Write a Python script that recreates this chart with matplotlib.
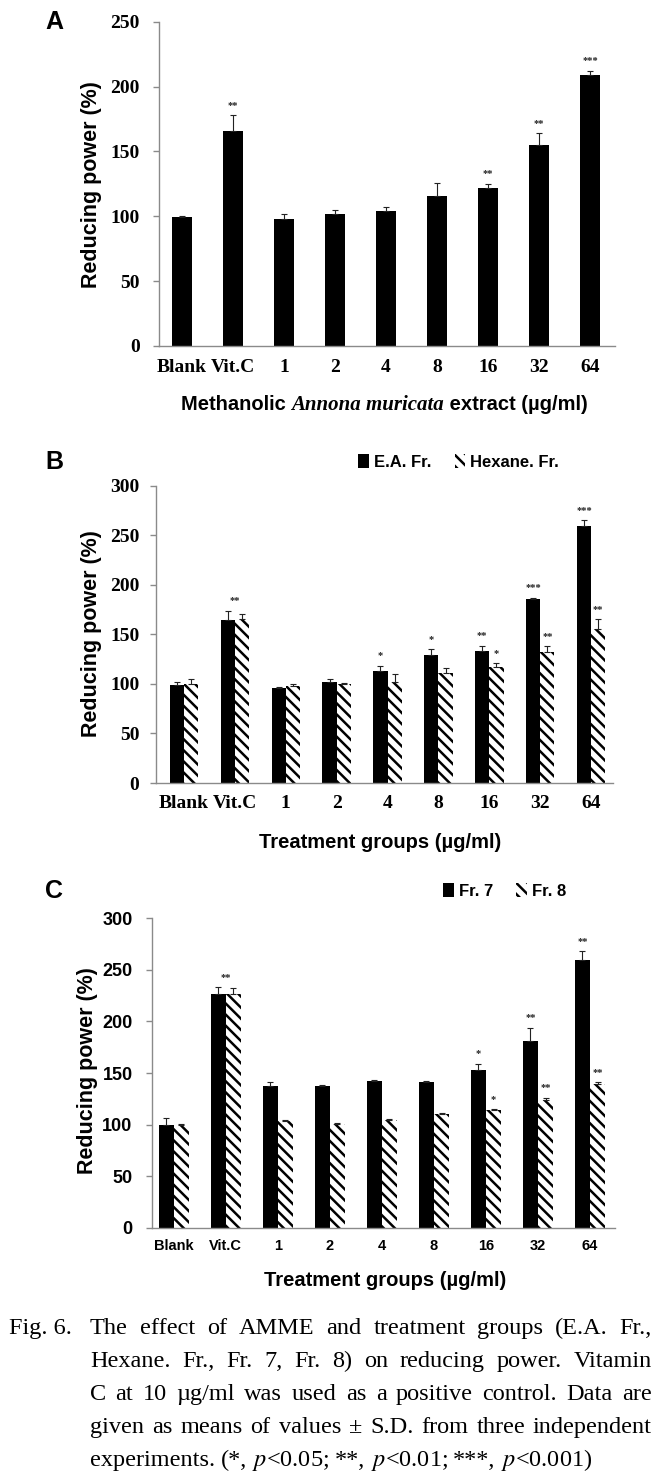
import numpy as np
import matplotlib
matplotlib.use('Agg')
import matplotlib.pyplot as plt
from matplotlib.patches import Patch

plt.rcParams['hatch.linewidth'] = 1.8
plt.rcParams['mathtext.fontset'] = 'stix'

groups = ['Blank', 'Vit.C', '1', '2', '4', '8', '16', '32', '64']

# panel A: methanolic extract
a_vals = [99.5, 166, 98, 102, 104, 116, 122, 155, 209]
a_err = [1, 12, 4, 3, 3, 10, 3, 9, 3]
a_sig = ['', '**', '', '', '', '', '**', '**', '***']

# panel B: E.A. / Hexane fractions
b_ea = [99, 164, 96, 102, 113, 129, 133.5, 186, 259]
b_ea_err = [3, 10, 1, 3, 5, 6, 5, 1, 6]
b_hex = [100, 165, 98, 100, 102, 111, 117, 132, 155]
b_hex_err = [5, 6, 2, 1, 8, 5, 4, 6, 10]
b_ea_sig = ['', '', '', '', '*', '*', '**', '***', '***']
b_hex_sig = ['', '', '', '', '', '', '*', '**', '**']
b_pair_sig = ['', '**', '', '', '', '', '', '', '']

# panel C: Fr. 7 / Fr. 8
c_f7 = [100, 227, 137, 137, 142.5, 141.5, 153, 181, 260]
c_f7_err = [6, 6, 4, 1, 0.5, 1, 6, 13, 8]
c_f8 = [100, 227, 103, 101, 104.5, 110, 114, 124, 139]
c_f8_err = [1, 5, 1, 1, 1, 1, 1, 2, 2]
c_f7_sig = ['', '', '', '', '', '', '*', '**', '**']
c_f8_sig = ['', '', '', '', '', '', '*', '**', '**']
c_pair_sig = ['', '**', '', '', '', '', '', '', '']

caption = [
    "The effect of AMME and treatment groups (E.A. Fr.,",
    "Hexane. Fr., Fr. 7, Fr. 8) on reducing power. Vitamin",
    "C at 10 µg/ml was used as a positive control. Data are",
    "given as means of values ± S.D. from three independent",
    "experiments. (*, $p$<0.05; **, $p$<0.01; ***, $p$<0.001)",
]

W, H = 665, 1472
fig = plt.figure(figsize=(W / 100, H / 100), dpi=100)
GRAY = '#8a8a8a'
SERIF = 'Liberation Serif'
SANS = 'Liberation Sans'


def px_axes(left, right, top, bottom):
    return fig.add_axes([left / W, 1 - bottom / H, (right - left) / W, (bottom - top) / H])


def style(ax, ymax, xlim, tfont, xsize, ysize, xpad, ypad):
    ax.set_ylim(0, ymax)
    ax.set_xlim(*xlim)
    ax.set_yticks(np.arange(0, ymax + 1, 50))
    ax.set_xticks(range(len(groups)))
    ax.set_xticklabels(groups)
    for s in ['top', 'right']:
        ax.spines[s].set_visible(False)
    for s in ['left', 'bottom']:
        ax.spines[s].set_color(GRAY)
        ax.spines[s].set_linewidth(1.0)
    ax.tick_params(axis='y', direction='out', length=4, width=1, color=GRAY, pad=ypad)
    ax.tick_params(axis='x', length=0, pad=xpad)
    for t in ax.get_xticklabels():
        t.set_fontfamily(tfont)
        t.set_fontweight('bold')
        t.set_fontsize(xsize)
    for t in ax.get_yticklabels():
        t.set_fontfamily(tfont)
        t.set_fontweight('bold')
        t.set_fontsize(ysize)


def stars(ax, xs, tops, labels, off=4):
    for x, y, s in zip(xs, tops, labels):
        if s:
            ax.annotate(s, (x, y), xytext=(0, off), textcoords='offset points',
                        ha='center', va='bottom', fontsize=7.5, color='#222222',
                        fontfamily=SERIF, fontweight='bold')


def ebar(ax, xs, vals, err):
    ax.errorbar(xs, vals, yerr=[np.zeros(len(err)), err], fmt='none', ecolor='#222222',
                elinewidth=0.8, capsize=2, capthick=0.8)


x = np.arange(len(groups))

# ---- A ----
axA = px_axes(159, 615, 21.7, 346)
axA.bar(x, a_vals, width=0.39, color='black')
ebar(axA, x, a_vals, a_err)
stars(axA, x, np.add(a_vals, a_err), a_sig)
style(axA, 250, (-0.45, 8.49), SERIF, 14, 14, 9, 10)

# ---- B ----
bw = 0.28
axB = px_axes(156, 613, 485.7, 783)
axB.bar(x - bw / 2, b_ea, width=bw, color='black')
axB.bar(x + bw / 2, b_hex, width=bw, color='white', edgecolor='black', hatch='\\\\\\', linewidth=0)
ebar(axB, x - bw / 2, b_ea, b_ea_err)
ebar(axB, x + bw / 2, b_hex, b_hex_err)
stars(axB, x - bw / 2, np.add(b_ea, b_ea_err), b_ea_sig)
stars(axB, x + bw / 2, np.add(b_hex, b_hex_err), b_hex_sig)
stars(axB, x, np.maximum(np.add(b_ea, b_ea_err), np.add(b_hex, b_hex_err)), b_pair_sig)
style(axB, 300, (-0.55, 8.43), SERIF, 14, 14, 9, 8)

# ---- C ----
cw = 0.29
axC = px_axes(152, 615, 918.3, 1227.7)
axC.bar(x - cw / 2, c_f7, width=cw, color='black')
axC.bar(x + cw / 2, c_f8, width=cw, color='white', edgecolor='black', hatch='\\\\\\', linewidth=0)
ebar(axC, x - cw / 2, c_f7, c_f7_err)
ebar(axC, x + cw / 2, c_f8, c_f8_err)
stars(axC, x - cw / 2, np.add(c_f7, c_f7_err), c_f7_sig)
stars(axC, x + cw / 2, np.add(c_f8, c_f8_err), c_f8_sig)
stars(axC, x, np.maximum(np.add(c_f7, c_f7_err), np.add(c_f8, c_f8_err)), c_pair_sig)
style(axC, 300, (-0.42, 8.48), SANS, 10.5, 13, 8, 10)

# legends
leg_kw = dict(frameon=False, ncol=2, handlelength=0.65, handleheight=0.9, handletextpad=0.3,
              columnspacing=1.4, borderpad=0, borderaxespad=0, loc='center left',
              bbox_transform=fig.transFigure, prop=dict(family=SANS, weight='bold', size=12))
hb = [Patch(facecolor='black', edgecolor='black', linewidth=0),
      Patch(facecolor='white', edgecolor='black', hatch='\\\\\\', linewidth=0)]
axB.legend(hb, ['E.A. Fr.', 'Hexane. Fr.'], bbox_to_anchor=(358 / W, 1 - 462 / H), **leg_kw)
axC.legend(hb, ['Fr. 7', 'Fr. 8'], bbox_to_anchor=(443 / W, 1 - 891 / H), **leg_kw)


def ftext(px, py, s, **kw):
    return fig.text(px / W, 1 - py / H, s, **kw)


# panel letters
for lab, py in [('A', 22), ('B', 462), ('C', 891)]:
    ftext(45, py, lab, ha='left', va='center', fontsize=18, fontweight='bold', fontfamily=SANS)

# y labels
for px, py, fs in [(92, 185, 15.5), (92, 634, 15.5), (88, 1071, 15.5)]:
    ftext(px, py, 'Reducing power (%)', rotation=90, ha='center', va='center',
          fontsize=fs, fontweight='bold', fontfamily=SANS)

# x labels
t1 = ftext(181, 405, 'Methanolic ', ha='left', va='center', fontsize=14.5,
           fontweight='bold', fontfamily=SANS)
t2 = axA.annotate('Annona muricata', xy=(1, 0), xycoords=t1, va='bottom', ha='left',
                  fontsize=15, fontweight='bold', fontstyle='italic', fontfamily=SERIF)
axA.annotate(' extract (µg/ml)', xy=(1, 0), xycoords=t2, va='bottom', ha='left',
             fontsize=14.5, fontweight='bold', fontfamily=SANS)
ftext(380, 843, 'Treatment groups (µg/ml)', ha='center', va='center', fontsize=14.5,
      fontweight='bold', fontfamily=SANS)
ftext(385, 1281, 'Treatment groups (µg/ml)', ha='center', va='center', fontsize=14.5,
      fontweight='bold', fontfamily=SANS)

# caption with hanging indent, justified lines
cap_kw = dict(fontsize=17.5, fontfamily=SERIF, va='baseline', ha='left')
renderer = fig.canvas.get_renderer()
x0, x1 = 90, 652
ftext(9, 1334, 'Fig. 6.', **cap_kw)
for i, line in enumerate(caption):
    py = 1334 + i * 33
    words = line.split(' ')
    texts = [ftext(0, py, w, **cap_kw) for w in words]
    widths = [t.get_window_extent(renderer).width for t in texts]
    if i < len(caption) - 1:
        gap = (x1 - x0 - sum(widths)) / (len(words) - 1)
    else:
        gap = 5.5
    cx = x0
    for t, w in zip(texts, widths):
        t.set_x(cx / W)
        cx += w + gap

fig.savefig('out.png', dpi=100)
